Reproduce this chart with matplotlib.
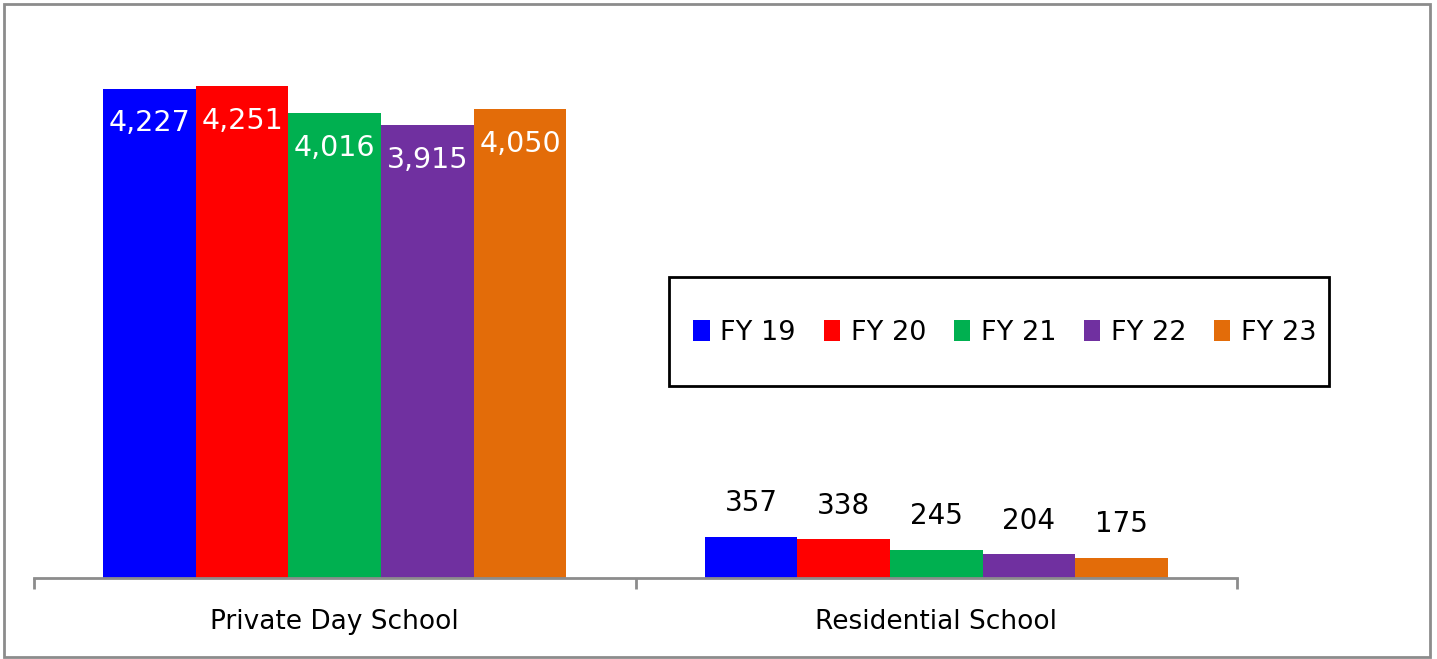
import numpy as np
import matplotlib.pyplot as plt
from matplotlib.patches import Rectangle

categories = ['Private Day School', 'Residential School']
years = ['FY 19', 'FY 20', 'FY 21', 'FY 22', 'FY 23']
values = {
    'FY 19': [4227, 357],
    'FY 20': [4251, 338],
    'FY 21': [4016, 245],
    'FY 22': [3915, 204],
    'FY 23': [4050, 175],
}
colors = ['#0000FF', '#FF0000', '#00B050', '#7030A0', '#E36C09']

plt.rcParams['font.family'] = ['DejaVu Sans']

fig = plt.figure(figsize=(14.37, 6.59), dpi=100)
ax = fig.add_axes([34/1437, 81/659, 1203/1437, 538/659])

x = np.arange(len(categories))
w = 0.77 / len(years)
for i, yr in enumerate(years):
    pos = x - 0.385 + w * (i + 0.5)
    bars = ax.bar(pos, values[yr], w, color=colors[i], label=yr)
    for j, b in enumerate(bars):
        v = values[yr][j]
        if j == 0:
            ax.annotate(f'{v:,}', (b.get_x() + w/2, v), xytext=(0, -25),
                        textcoords='offset points', ha='center', va='center',
                        color='white', fontsize=20.5)
        else:
            ax.annotate(f'{v:,}', (b.get_x() + w/2, v), xytext=(0, 24),
                        textcoords='offset points', ha='center', va='center',
                        color='black', fontsize=20)

ax.set_xlim(-0.5, 1.5)
ax.set_ylim(0, 4648)
ax.set_yticks([])
ax.set_xticks([-0.5, 0.5, 1.5], minor=False)
ax.set_xticklabels([])
ax.set_xticks(x, minor=True)
ax.set_xticklabels(categories, minor=True, fontsize=19)
ax.tick_params(axis='x', which='minor', length=0, pad=22)
ax.tick_params(axis='x', which='major', length=8, width=2, color='#8c8c8c')
for s in ['top', 'right', 'left']:
    ax.spines[s].set_visible(False)
ax.spines['bottom'].set_color('#8c8c8c')
ax.spines['bottom'].set_linewidth(2)

# legend without its own frame, box drawn separately
leg = ax.legend(loc='center', bbox_to_anchor=(1005/1437, 1 - 333/659),
                bbox_transform=fig.transFigure, ncol=5, fontsize=19.5,
                frameon=False, borderpad=0.2,
                handlelength=0.6, handleheight=0.8, handletextpad=0.4,
                columnspacing=1.02)
fig.patches.append(Rectangle((669/1437, 1 - 386/659), 660/1437, 109/659,
                             transform=fig.transFigure, fill=False,
                             edgecolor='black', linewidth=2))

fig.patches.append(Rectangle((4/1437, 2/659), 1426/1437, 653/659,
                             transform=fig.transFigure, fill=False,
                             edgecolor='#8c8c8c', linewidth=2))

fig.savefig('out.png', dpi=100)
